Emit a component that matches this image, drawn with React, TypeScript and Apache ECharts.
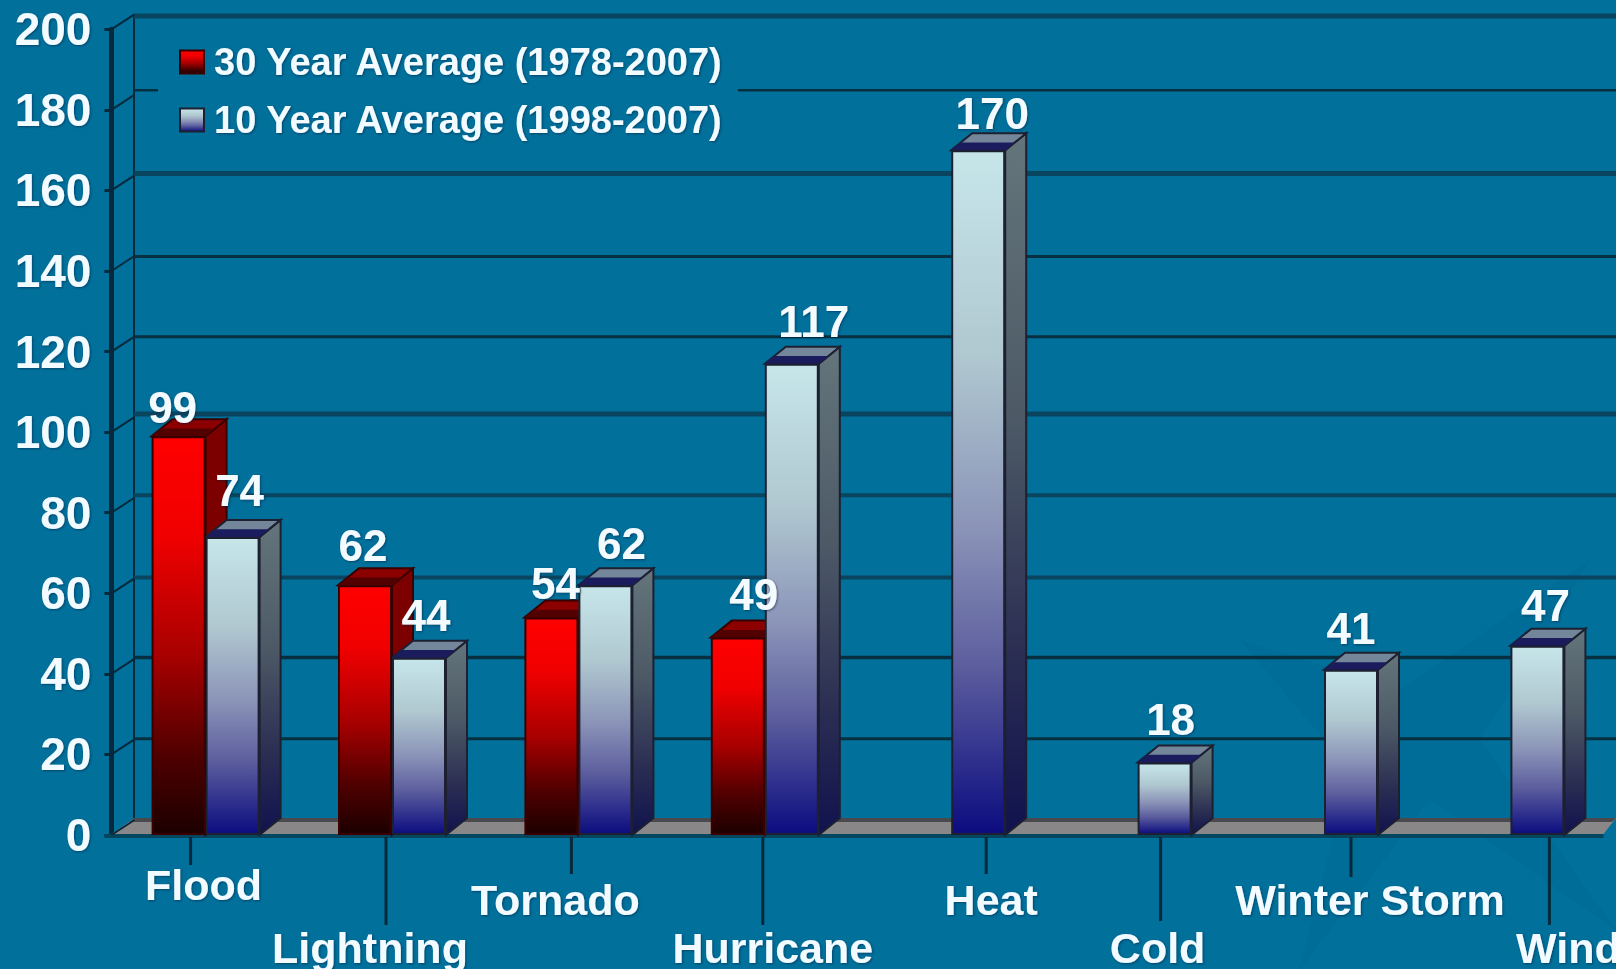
import React, { useEffect, useRef } from "react";
import * as echarts from "echarts";

const categories = ["Flood", "Lightning", "Tornado", "Hurricane", "Heat", "Cold", "Winter Storm", "Wind"];
const thirtyYear = [99, 62, 54, 49, null, null, null, null];
const tenYear = [74, 44, 62, 117, 170, 18, 41, 47];
const yTicks = [0, 20, 40, 60, 80, 100, 120, 140, 160, 180, 200];
const thirtyName = "30 Year Average (1978-2007)";
const tenName = "10 Year Average (1998-2007)";

// layout of the staggered axis annotations and back-wall rules
const tickShift = [-15, -6, -7, -2, 35, 23, 27, 39];
const tickLength = [28, 88, 37, 88, 37, 84, 40, 88];
const labelShift = [-2, -22, -23, 8, 40, 20, 46, 58];
const labelDrop = [0, 63, 15, 63, 15, 63, 15, 63];
const redLabelOffset = [[-6, -7], [-2, -18], [4, -12], [16, -21], [0, 0], [0, 0], [0, 0], [0, 0]];
const blueLabelOffset = [[7, -24], [7, -20], [16, -20], [22, -20], [14, -15], [6, -21], [0, -19], [8, -18]];
const wallLineShift = [0, 1, 0, 0, -2, -3, 0, 0, -3, -6, 0];
const wallLineWidth = [0, 3, 3.5, 4, 4, 5, 3, 3, 5, 2.5, 5];

const BG = "#01709b";
const FONT = "Liberation Sans, Arial, sans-serif";
const BAR_W = 54;
const DX = 21;
const DY = 17;

const grad = (stops: [number, string][]) =>
  new echarts.graphic.LinearGradient(0, 0, 0, 1, stops.map(([offset, color]) => ({ offset, color })));

const redFront = () => grad([[0, "#ff0000"], [0.25, "#f00000"], [0.55, "#a80000"], [0.8, "#500000"], [1, "#1c0000"]]);
const blueFront = () => grad([[0, "#c6e6ea"], [0.3, "#b0c8d0"], [0.55, "#8b94b8"], [0.75, "#5d5f9e"], [1, "#0c0c80"]]);
const blueSide = () => grad([[0, "#64757b"], [0.4, "#4d5a66"], [0.75, "#2a2d52"], [1, "#10124e"]]);

const textFx = { textShadowColor: "rgba(0,35,60,0.55)", textShadowBlur: 2, textShadowOffsetX: 1, textShadowOffsetY: 1 };

function depthRender(kind: "red" | "blue") {
  return (params: any, api: any) => {
    const v = api.value(1);
    if (v === null || v === undefined || isNaN(v)) return undefined;
    const [cx, top] = api.coord([api.value(0), v]);
    const [, base] = api.coord([api.value(0), 0]);
    const left = kind === "red" ? cx - BAR_W : cx;
    const right = left + BAR_W;
    const sideColor = kind === "red" ? "#7c0000" : blueSide();
    const topBack = kind === "red" ? "#8c0000" : "#74869a";
    const topFront = kind === "red" ? "#520000" : "#1b1c5e";
    const edge = kind === "red" ? "#3a0000" : "#1c2030";
    return {
      type: "group",
      children: [
        {
          type: "polygon",
          shape: { points: [[right, top], [right + DX, top - DY], [right + DX, base - DY], [right, base]] },
          style: { fill: sideColor, stroke: edge, lineWidth: 2 },
        },
        {
          type: "polygon",
          shape: { points: [[left, top], [right, top], [right + DX, top - DY], [left + DX, top - DY]] },
          style: { fill: topBack, stroke: edge, lineWidth: 2 },
        },
        {
          type: "polygon",
          shape: { points: [[left, top], [right, top], [right + DX * 0.45, top - DY * 0.45], [left + DX * 0.45, top - DY * 0.45]] },
          style: { fill: topFront },
        },
      ],
    };
  };
}

const makeOption = () => ({
  animation: false,
  backgroundColor: BG,
  graphic: [
    {
      type: "polygon",
      z: -1,
      silent: true,
      shape: { points: [[1240, 640], [1400, 690], [1590, 560], [1480, 740], [1616, 930], [1430, 800], [1300, 969], [1350, 770]] },
      style: { fill: "rgba(0,50,100,0.05)" },
    },
  ],
  grid: [
    { left: 112.4, right: 12.4, top: 29.3, bottom: 134, outerBoundsMode: "none" },
    { left: 134, right: 0, top: 16, bottom: 151, outerBoundsMode: "none" },
  ],
  legend: {
    data: [{ name: thirtyName }, { name: tenName }],
    orient: "vertical",
    left: 158,
    top: 29,
    padding: [14, 14, 14, 21],
    backgroundColor: BG,
    itemWidth: 24,
    itemHeight: 23,
    itemGap: 20,
    icon: "rect",
    z: 20,
    textStyle: { color: "#f2fbff", fontFamily: FONT, fontWeight: "bold", fontSize: 38, padding: [0, 0, 0, 5], ...textFx },
  },
  xAxis: [
    {
      gridIndex: 0,
      type: "category",
      data: categories.map((value, i) => {
        const s = labelShift[i];
        return {
          value,
          textStyle: { padding: [labelDrop[i], s < 0 ? -2 * s : 0, 0, s > 0 ? 2 * s : 0] },
        };
      }),
      axisLine: { show: false },
      axisTick: { show: false },
      axisLabel: {
        interval: 0,
        margin: 28,
        hideOverlap: false,
        color: "#f2fbff",
        fontFamily: FONT,
        fontWeight: "bold",
        fontSize: 43,
        ...textFx,
      },
    },
    { gridIndex: 1, type: "value", show: false, min: 0, max: 1 },
  ],
  yAxis: [
    {
      gridIndex: 0,
      type: "value",
      min: 0,
      max: 200,
      interval: 20,
      offset: 1,
      splitLine: { show: false },
      axisLine: { show: true, lineStyle: { color: "#06293c", width: 5 } },
      axisTick: { show: true, length: 7, lineStyle: { color: "#06293c", width: 3 } },
      axisLabel: { margin: 20, color: "#f2fbff", fontFamily: FONT, fontWeight: "bold", fontSize: 46, ...textFx },
    },
    {
      gridIndex: 1,
      type: "value",
      min: 0,
      max: 200,
      interval: 20,
      axisLabel: { show: false },
      axisTick: { show: false },
      axisLine: { show: true, lineStyle: { color: "#06293c", width: 2 } },
      splitLine: { show: false },
    },
  ],
  series: [
    {
      name: "wall lines",
      type: "custom",
      xAxisIndex: 1,
      yAxisIndex: 1,
      z: 1,
      silent: true,
      clip: false,
      data: yTicks.map((v, i) => [i, v]),
      encode: { x: 0, y: 1 },
      renderItem: (params: any, api: any) => {
        const i = api.value(0);
        const y = api.coord([0, api.value(1)])[1] + wallLineShift[i];
        const w = wallLineWidth[i];
        if (!w) return undefined;
        return {
          type: "line",
          shape: { x1: params.coordSys.x, y1: y, x2: 1616, y2: y },
          style: { stroke: w >= 4 ? "#0a4560" : "#06303f", lineWidth: w },
        };
      },
    },
    {
      name: "floor",
      type: "custom",
      xAxisIndex: 0,
      yAxisIndex: 0,
      z: 1,
      silent: true,
      clip: false,
      data: [0],
      renderItem: (params: any) => {
        const cs = params.coordSys;
        const base = cs.y + cs.height;
        const x0 = cs.x - 1;
        const x1 = cs.x + cs.width;
        return {
          type: "group",
          children: [
            {
              type: "polygon",
              shape: { points: [[x0, base - 1], [x0 + 23, base - 17], [1616, base - 17], [x1, base - 1]] },
              style: { fill: "#8a8788" },
            },
            {
              type: "polygon",
              shape: { points: [[x0 + 23, base - 17], [1616, base - 17], [1612, base - 13], [x0 + 18, base - 13]] },
              style: { fill: "#4a4a4e" },
            },
            {
              type: "line",
              shape: { x1: x0 - 7, y1: base + 1, x2: x1, y2: base + 1 },
              style: { stroke: "#05465f", lineWidth: 4 },
            },
          ],
        };
      },
    },
    {
      name: "wall connectors",
      type: "custom",
      xAxisIndex: 0,
      yAxisIndex: 0,
      z: 1,
      silent: true,
      clip: false,
      data: yTicks.map((v) => [0, v]),
      encode: { x: 0, y: 1 },
      renderItem: (params: any, api: any) => {
        const y = api.coord([0, api.value(1)])[1];
        const x0 = params.coordSys.x - 1;
        return {
          type: "line",
          shape: { x1: x0, y1: y, x2: x0 + 23, y2: y - 15 },
          style: { stroke: "#06293c", lineWidth: 2 },
        };
      },
    },
    {
      name: "category ticks",
      type: "custom",
      xAxisIndex: 0,
      yAxisIndex: 0,
      z: 1,
      silent: true,
      clip: false,
      data: categories.map((_, i) => [i, 0]),
      encode: { x: 0, y: 1 },
      renderItem: (params: any, api: any) => {
        const i = api.value(0);
        const [cx, base] = api.coord([i, 0]);
        const x = cx + tickShift[i];
        return {
          type: "line",
          shape: { x1: x, y1: base + 2, x2: x, y2: base + 2 + tickLength[i] },
          style: { stroke: "#06293c", lineWidth: 3 },
        };
      },
    },
    {
      name: "30 depth",
      type: "custom",
      xAxisIndex: 0,
      yAxisIndex: 0,
      z: 3,
      silent: true,
      clip: false,
      data: thirtyYear.map((v, i) => [i, v]),
      encode: { x: 0, y: 1 },
      renderItem: depthRender("red"),
    },
    {
      name: "10 depth",
      type: "custom",
      xAxisIndex: 0,
      yAxisIndex: 0,
      z: 5,
      silent: true,
      clip: false,
      data: tenYear.map((v, i) => [i, v]),
      encode: { x: 0, y: 1 },
      renderItem: depthRender("blue"),
    },
    {
      name: thirtyName,
      type: "bar",
      xAxisIndex: 0,
      yAxisIndex: 0,
      z: 7,
      barWidth: BAR_W,
      barGap: 0,
      itemStyle: { color: redFront(), borderColor: "#3a0000", borderWidth: 2 },
      data: thirtyYear.map((value, i) => ({ value, label: { offset: redLabelOffset[i] } })),
      label: {
        show: true,
        position: "top",
        distance: 0,
        color: "#f4fbff",
        fontFamily: FONT,
        fontWeight: "bold",
        fontSize: 44,
        ...textFx,
      },
    },
    {
      name: tenName,
      type: "bar",
      xAxisIndex: 0,
      yAxisIndex: 0,
      z: 6,
      barWidth: BAR_W,
      barGap: 0,
      itemStyle: { color: blueFront(), borderColor: "#1c2030", borderWidth: 2 },
      data: tenYear.map((value, i) => ({ value, label: { offset: blueLabelOffset[i] } })),
      label: {
        show: true,
        position: "top",
        distance: 0,
        color: "#f4fbff",
        fontFamily: FONT,
        fontWeight: "bold",
        fontSize: 44,
        ...textFx,
      },
    },
  ],
});

export default function App() {
  const ref = useRef<HTMLDivElement>(null);
  useEffect(() => {
    const chart = echarts.init(ref.current!, undefined, { renderer: "svg" });
    chart.setOption(makeOption());
    return () => chart.dispose();
  }, []);
  return <div ref={ref} style={{ position: "fixed", left: 0, top: 0, width: 1616, height: 969 }} />;
}
